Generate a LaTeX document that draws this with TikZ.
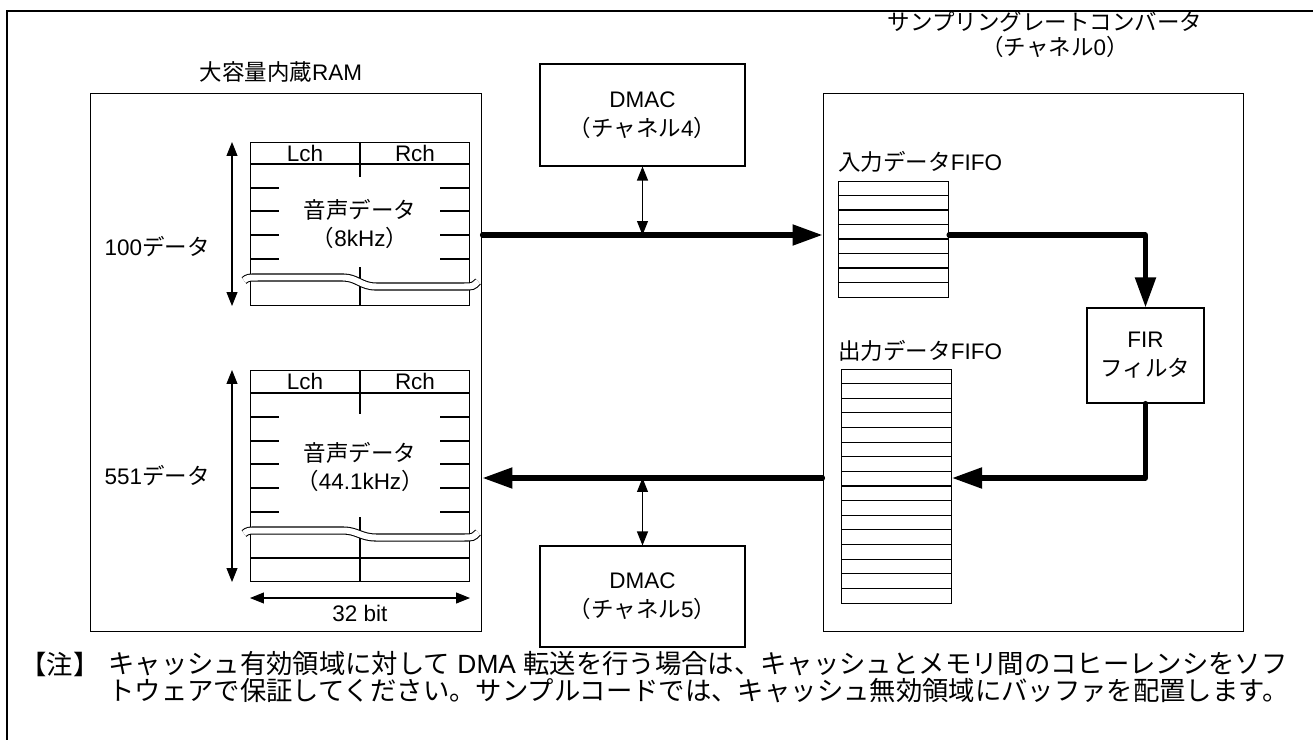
\documentclass[tikz,border=0pt]{standalone}
\usepackage{fontspec}
\setmainfont{Liberation Sans}
\newfontfamily\jp{Noto Sans CJK JP}
\usetikzlibrary{arrows.meta}
\newcommand\breakwave[2]{%
  \draw[wave] (244,#1+3) .. controls (248,#1) .. (258,#1) -- (343,#1)
    .. controls (357,#1) and (361,#1+#2) .. (376,#1+#2) -- (464,#1+#2)
    .. controls (473,#1+#2) .. (478,#1+#2-5);}
\begin{document}
\begin{tikzpicture}[x=0.02cm,y=-0.02cm,
  every node/.style={inner sep=0pt, font=\fontsize{12.8pt}{16.4pt}\selectfont},
  box/.style={draw, line width=0.6pt, inner sep=0pt},
  hair/.style={line width=0.6pt},
  bus/.style={line width=2.9pt, line cap=round, line join=round, -{Triangle[length=0.6cm,width=0.4cm]}},
  dbl/.style={line width=0.6pt, {Triangle[length=0.28cm,width=0.22cm]}-{Triangle[length=0.28cm,width=0.22cm]}},
  wave/.style={line width=0.6pt, double=white, double distance=0.12cm},
  notetext/.style={anchor=west, font=\fontsize{15pt}{18pt}\selectfont}
]
\clip (0,0) rectangle (1313,740);
% outer frame
\draw[line width=1.1pt] (7,760) -- (7,11) -- (1330,11);

% main boxes
\node[box, minimum width=7.84cm, minimum height=10.78cm] (ram) at (286,362.5) {};
\node[box, minimum width=8.42cm, minimum height=10.78cm] (srcbox) at (1033.5,362.5) {};
\node[box, minimum width=4.1cm, minimum height=2.04cm, align=center] (dmac4) at (642.5,115) {DMAC\\{\jp （チャネル}4{\jp ）}};
\node[box, minimum width=4.1cm, minimum height=2.02cm, align=center] (dmac5) at (642.5,596.5) {DMAC\\{\jp （チャネル}5{\jp ）}};
\node[box, minimum width=2.34cm, minimum height=1.9cm, align=center] (fir) at (1145.5,355.5) {FIR\\{\jp フィルタ}};

% titles
\node (ramtitle) at (281,72) {{\jp 大容量内蔵}RAM};
\node (srctitle) at (1045,22) {\jp サンプリングレートコンバータ};
\node (srcch) at (1055,47) {{\jp （チャネル}0{\jp ）}};

% top table
\node[box, minimum width=4.38cm, minimum height=3.26cm, anchor=north west] (tab1) at (250,142) {};
\draw[hair] (250,164) -- (469,164);
\draw[hair] (360,142) -- (360,177);
\draw[hair] (360,267) -- (360,305);
\foreach \y in {188,211,235,259} {\draw[hair] (250,\y) -- (279,\y) (440,\y) -- (469,\y);}
\breakwave{277.5}{9}
\node (lch1) at (305,153) {Lch};
\node (rch1) at (415,153) {Rch};
\node (voice1) at (360,210) {\jp 音声データ};
\node (rate1) at (360,238) {{\jp （}8kHz{\jp ）}};
\node[anchor=east] (cnt1) at (210,247) {100{\jp データ}};
\draw[dbl] ([xshift=-0.36cm]tab1.north west) -- ([xshift=-0.36cm]tab1.south west);

% bottom table
\node[box, minimum width=4.38cm, minimum height=4.22cm, anchor=north west] (tab2) at (250,370) {};
\draw[hair] (250,393) -- (469,393);
\draw[hair] (360,370) -- (360,414);
\draw[hair] (360,517) -- (360,581);
\draw[hair] (250,558) -- (469,558);
\foreach \y in {417,441,464,488,512} {\draw[hair] (250,\y) -- (279,\y) (440,\y) -- (469,\y);}
\breakwave{530.5}{7}
\node (lch2) at (305,381.5) {Lch};
\node (rch2) at (415,381.5) {Rch};
\node (voice2) at (360,453) {\jp 音声データ};
\node (rate2) at (360,481) {{\jp （}44.1kHz{\jp ）}};
\node[anchor=east] (cnt2) at (210,476) {551{\jp データ}};
\draw[dbl] ([xshift=-0.36cm]tab2.north west) -- ([xshift=-0.36cm]tab2.south west);
\draw[dbl] ([yshift=-0.32cm]tab2.south west) -- ([yshift=-0.32cm]tab2.south east);
\node (bits) at (360,613) {32 bit};

% FIFOs
\node[anchor=west] (fifointitle) at (838,162) {{\jp 入力データ}FIFO};
\node[box, minimum width=2.2cm, minimum height=2.32cm, anchor=north west] (fifoin) at (838,181) {};
\foreach \i in {1,...,7} {\draw[hair] (838,181+14.5*\i) -- (948,181+14.5*\i);}
\node[anchor=west] (fifoouttitle) at (838,351) {{\jp 出力データ}FIFO};
\node[box, minimum width=2.2cm, minimum height=4.68cm, anchor=north west] (fifoout) at (841,369) {};
\foreach \i in {1,...,15} {\draw[hair] (841,369+14.625*\i) -- (951,369+14.625*\i);}

% rows of the buses
\coordinate (inrow) at (0,235);
\coordinate (outrow) at (0,478);

% connectors
\draw[bus] (ram.east |- inrow) -- (srcbox.west |- inrow);
\draw[bus] (fifoin.east |- inrow) -- (fir.north |- inrow) -- (fir.north);
\draw[bus] (fir.south) -- (fir.south |- outrow) -- (fifoout.east |- outrow);
\draw[bus] (srcbox.west |- outrow) -- (ram.east |- outrow);
\draw[dbl] (dmac4.south) -- (dmac4.south |- inrow);
\draw[dbl] (dmac5.north) -- (dmac5.north |- outrow);

% note
\node[notetext] (notehead) at (20,664) {\jp 【注】};
\node[notetext] (note1) at (108,664) {{\jp キャッシュ有効領域に対して} DMA {\jp 転送を行う場合は、キャッシュとメモリ間のコヒーレンシをソフ}};
\node[notetext] (note2) at (108,691) {\jp トウェアで保証してください。サンプルコードでは、キャッシュ無効領域にバッファを配置します。};
\end{tikzpicture}
\end{document}
